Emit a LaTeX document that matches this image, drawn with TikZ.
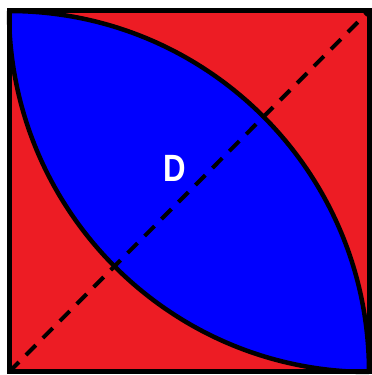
\documentclass[tikz,border=0pt]{standalone}
\usepackage{fontspec}
\setmainfont{Liberation Sans}
\definecolor{sqred}{HTML}{ED1C24}
\definecolor{lensblue}{HTML}{0000FF}
\begin{document}
\begin{tikzpicture}[x=1pt,y=1pt,
  edge/.style={line width=4.5pt,black},
  diag/.style={line width=4pt,black,dash pattern=on 14pt off 10pt},
  lbl/.style={text=white,font=\bfseries\fontsize{38}{38}\selectfont,xscale=0.82}]
\useasboundingbox (0,0) rectangle (372,375);
\fill[white] (0,0) rectangle (372,375);
\coordinate (BL) at (9,3);
\coordinate (TR) at (369,364);
\coordinate (TL) at (9,364);
\coordinate (BR) at (369,3);
\fill[sqred] (BL) rectangle (TR);
\fill[lensblue] (TL) arc[start angle=90,end angle=0,x radius=360,y radius=361]
  arc[start angle=270,end angle=180,x radius=360,y radius=361] -- cycle;
\draw[edge] (TL) arc[start angle=90,end angle=0,x radius=360,y radius=361];
\draw[edge] (BR) arc[start angle=270,end angle=180,x radius=360,y radius=361];
\draw[diag] (BL) -- (TR);
\draw[line width=5pt] (BL) rectangle (TR);
\node[lbl] (D) at (175,207) {D};
\end{tikzpicture}
\end{document}
